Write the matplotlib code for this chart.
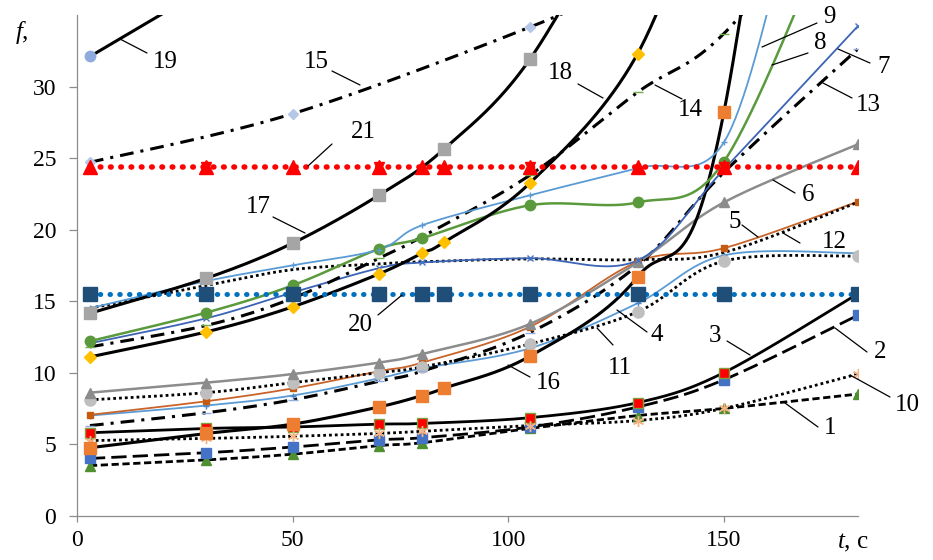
import numpy as np
import matplotlib
matplotlib.use("Agg")
import matplotlib.pyplot as plt

plt.rcParams['font.family'] = ['Liberation Serif', 'DejaVu Serif']
plt.rcParams['mathtext.fontset'] = 'custom'
plt.rcParams['mathtext.it'] = 'Liberation Serif:italic'
plt.rcParams['mathtext.rm'] = 'Liberation Serif'

# ---------------- data ----------------
t_std = [3, 30, 50, 70, 80, 105, 130, 150, 181]
t_all = [3, 30, 50, 70, 80, 85, 105, 130, 150, 181]

s1 = [3.5, 3.9, 4.3, 4.9, 5.1, 6.1, 7.0, 7.5, 8.5]
s2 = [4.0, 4.4, 4.8, 5.3, 5.45, 6.2, 7.6, 9.5, 14.0]
s3 = [5.8, 6.1, 6.2, 6.4, 6.45, 6.85, 7.9, 10.0, 15.5]
s4 = [7.0, 7.7, 8.4, 9.6, 10.3, 11.7, 14.85, 18.2, 18.35]
s5 = [7.05, 8.0, 8.9, 10.1, 10.7, 13.2, 17.75, 18.7, 21.95]
s6 = [8.6, 9.3, 9.9, 10.7, 11.3, 13.4, 17.7, 21.9, 25.95]
s7 = [12.05, 13.8, 15.6, 17.3, 17.7, 18.0, 17.85, 24.2, 34.2]
t8 = [3, 30, 50, 70, 80, 105, 130, 150, 176]
s8 = [12.2, 14.2, 16.1, 18.65, 19.4, 21.7, 21.9, 24.75, 42.0]
t9 = [3, 30, 50, 70, 80, 105, 130, 150, 165]
s9 = [14.5, 16.4, 17.5, 18.6, 20.3, 22.4, 24.3, 26.1, 41.0]
s10 = [5.25, 5.4, 5.55, 5.75, 5.9, 6.3, 6.65, 7.5, 9.9]
s11 = [8.1, 8.6, 9.3, 10.0, 10.4, 12.0, 14.25, 17.8, 18.15]
s12 = [14.5, 16.1, 17.2, 17.6, 17.75, 17.95, 17.9, 18.4, 21.9]
s13 = [6.3, 7.2, 8.1, 9.4, 10.1, 12.8, 17.5, 24.0, 32.6]
s14 = [11.8, 13.3, 15.2, 18.0, 19.5, 23.8, 29.6, 33.7, 45.0]
t15 = [3, 50, 105, 130]
s15 = [24.7, 28.1, 34.15, 37.6]
s16 = [4.75, 5.75, 6.4, 7.6, 8.4, 8.9, 11.15, 16.7, 28.2, 95.0]
t17 = [3, 30, 50, 70, 85, 105, 130]
s17 = [14.15, 16.6, 19.05, 22.4, 25.6, 31.9, 45.0]
t18 = [3, 30, 50, 70, 80, 85, 105, 130, 150]
s18 = [11.1, 12.85, 14.6, 16.9, 18.35, 19.1, 23.25, 32.3, 48.0]
t19 = [3, 30]
s19 = [32.1, 36.9]
s20 = [15.5] * 10
s21 = [24.35] * 10
t21_star = [30, 70, 105, 150]

labels = ['1', '2', '3', '4', '5', '6', '7', '8', '9', '10', '11', '12',
          '13', '14', '15', '16', '17', '18', '19', '20', '21']

# ---------------- figure ----------------
W, H = 933, 560
fig = plt.figure(figsize=(W / 100, H / 100), dpi=100)
L, R, T, B = 77, 858, 15, 515.7
ax = fig.add_axes([L / W, 1 - B / H, (R - L) / W, (B - T) / H])
XMAX, YMAX = 181.1, 35.0
ax.set_xlim(0, XMAX)
ax.set_ylim(0, YMAX)

sx = (R - L) / XMAX
sy = (B - T) / YMAX


def smooth(x, y, n=40):
    X = np.asarray(x, float) * sx
    Y = np.asarray(y, float) * sy
    P = np.column_stack([X, Y])
    if len(P) < 3:
        return np.asarray(x, float), np.asarray(y, float)
    Pe = np.vstack([P[0], P, P[-1]])
    out = []
    tt = np.linspace(0, 1, n)[:, None]
    for i in range(len(P) - 1):
        p0, p1, p2, p3 = Pe[i], Pe[i + 1], Pe[i + 2], Pe[i + 3]
        c1 = p1 + (p2 - p0) / 6.0
        c2 = p2 - (p3 - p1) / 6.0
        seg = ((1 - tt) ** 3) * p1 + 3 * ((1 - tt) ** 2) * tt * c1 + 3 * (1 - tt) * tt ** 2 * c2 + tt ** 3 * p2
        out.append(seg if i == 0 else seg[1:])
    out = np.vstack(out)
    return out[:, 0] / sx, out[:, 1] / sy


def series(x, y, color, lw, ls='-', marker=None, mc=None, ms=6, mec=None, z=2, cap='butt'):
    xs, ys = smooth(x, y)
    ax.plot(xs, ys, color=color, lw=lw, linestyle=ls, zorder=z,
            solid_capstyle='round', dash_capstyle=cap)
    if marker is not None:
        ax.plot(x, y, linestyle='none', marker=marker, color=mc, ms=ms,
                markeredgecolor=mec if mec else mc, markeredgewidth=1.0, zorder=z + 0.5)


DOT = (0, (1.0, 1.1))
DASHDOT = (0, (4.5, 2.3, 1.0, 2.3))
asterisk = (6, 2, 0)

series(t_std, s1, 'black', 2.0, (0, (2.6, 1.3)), '^', '#4E8F2F', 6.5)
series(t_std, s2, 'black', 2.0, (0, (5.5, 2.2)), 's', '#4472C4', 7)
series(t_std, s3, 'black', 2.0, '-', 's', '#FF0000', 7.5, mec='#7F9F3F')
series(t_std, s10, 'black', 2.0, DOT, asterisk, '#F4B183', 8)
series(t_std, s4, '#5B9BD5', 1.3, '-', '+', '#4A86C8', 5)
series(t_std, s5, '#C8642A', 1.3, '-', 's', '#C55A11', 4)
series(t_std, s11, 'black', 2.0, DOT, 'o', '#BFBFBF', 8)
series(t_std, s13, 'black', 2.2, DASHDOT, '_', '#8FAADC', 7)
series(t_std, s6, '#8C8C8C', 1.8, '-', '^', '#8C8C8C', 7)
series(t_all, s16, 'black', 2.2, '-', 's', '#ED7D31', 8)
series(t_std, s12, 'black', 2.0, DOT)
series(t_std, s7, '#3C64B4', 1.3, '-', 'x', '#4472C4', 5)
series(t_std, s14, 'black', 2.2, DASHDOT, '_', '#70AD47', 7)
series(t8, s8, '#5A9A3C', 1.8, '-', 'o', '#5A9A3C', 7.5)
series(t9, s9, '#5B9BD5', 1.3, '-', '+', '#5B9BD5', 5)
series(t18, s18, 'black', 2.2, '-', 'D', '#FFC000', 6)
series(t17, s17, 'black', 2.2, '-', 's', '#A5A5A5', 8)
series(t15, s15, 'black', 2.2, DASHDOT, 'D', '#B4C7E7', 5)
series(t19, s19, 'black', 2.2, '-', 'o', '#8FAADC', 7.5)

ax.plot(t_all, s20, color='#0070C0', lw=3.6, linestyle=(0, (0.1, 1.85)),
        dash_capstyle='round', zorder=6)
ax.plot(t_all, s20, linestyle='none', marker='s', color='#1F4E79', ms=9.5, zorder=6.5)
ax.plot(t_all, s21, color='#FF0000', lw=4.0, linestyle=(0, (0.1, 1.75)),
        dash_capstyle='round', zorder=6)
ax.plot(t_all, s21, linestyle='none', marker='^', color='#FF0000', ms=10.5, zorder=6.5)
ax.plot(t21_star, [s21[0]] * len(t21_star), linestyle='none', marker='v', color='#FF0000',
        ms=7, zorder=6.5)

# ---------------- axes styling ----------------
for s in ['top', 'right']:
    ax.spines[s].set_visible(False)
for s in ['left', 'bottom']:
    ax.spines[s].set_color('#8C8C8C')
    ax.spines[s].set_linewidth(0.9)
ax.set_xticks([0, 50, 100, 150])
ax.set_yticks([0, 5, 10, 15, 20, 25, 30])
ax.tick_params(axis='y', direction='out', length=6, width=0.9, color='#8C8C8C',
               labelsize=17, pad=9)
ax.tick_params(axis='x', direction='out', length=4, width=0.9, color='#8C8C8C',
               labelsize=17, pad=6)

# axis titles
fig.text(15 / W, 1 - 33 / H, '$f$,', fontsize=18, ha='left', va='center')
fig.text(837 / W, 1 - 543 / H, '$t$, с', fontsize=18, ha='left', va='center')


# ---------------- curve labels with leaders ----------------
def px2d(px, py):
    return ((px - L) / sx, (B - py) / sy)


annot = [
    ('19', (165, 62), (147, 53), (120, 39)),
    ('15', (316, 62), (332, 71), (360, 85)),
    ('21', (363, 132), (332, 144), (308, 166)),
    ('17', (258, 207), (273, 217), (305, 233)),
    ('18', (560, 73), (578, 84), (603, 98)),
    ('14', (690, 110), (682, 99), (655, 85)),
    ('9', (829, 17), (817, 23), (762, 47)),
    ('8', (820, 43), (808, 53), (772, 65)),
    ('7', (884, 67), (870, 63), (838, 49)),
    ('13', (868, 105), (852, 98), (823, 83)),
    ('6', (808, 195), (795, 193), (773, 180)),
    ('5', (735, 222), (742, 225), (758, 237)),
    ('12', (834, 242), (800, 243), (783, 233)),
    ('20', (360, 325), (378, 315), (402, 295)),
    ('16', (548, 383), (530, 377), (508, 365)),
    ('11', (620, 368), (613, 345), (597, 328)),
    ('4', (657, 335), (647, 332), (617, 310)),
    ('3', (715, 336), (727, 341), (750, 355)),
    ('2', (880, 352), (867, 352), (835, 328)),
    ('10', (907, 405), (890, 397), (850, 375)),
    ('1', (830, 428), (818, 427), (785, 403)),
]
for name, tp, a, b in annot:
    ax.annotate('', xy=px2d(*b), xytext=px2d(*a),
                arrowprops=dict(arrowstyle='-', lw=0.9, color='black',
                                shrinkA=0, shrinkB=0),
                annotation_clip=False, zorder=10)
    ax.text(*px2d(*tp), name, fontsize=18, ha='center', va='center', zorder=10,
            clip_on=False)

fig.savefig('out.png', dpi=100)
